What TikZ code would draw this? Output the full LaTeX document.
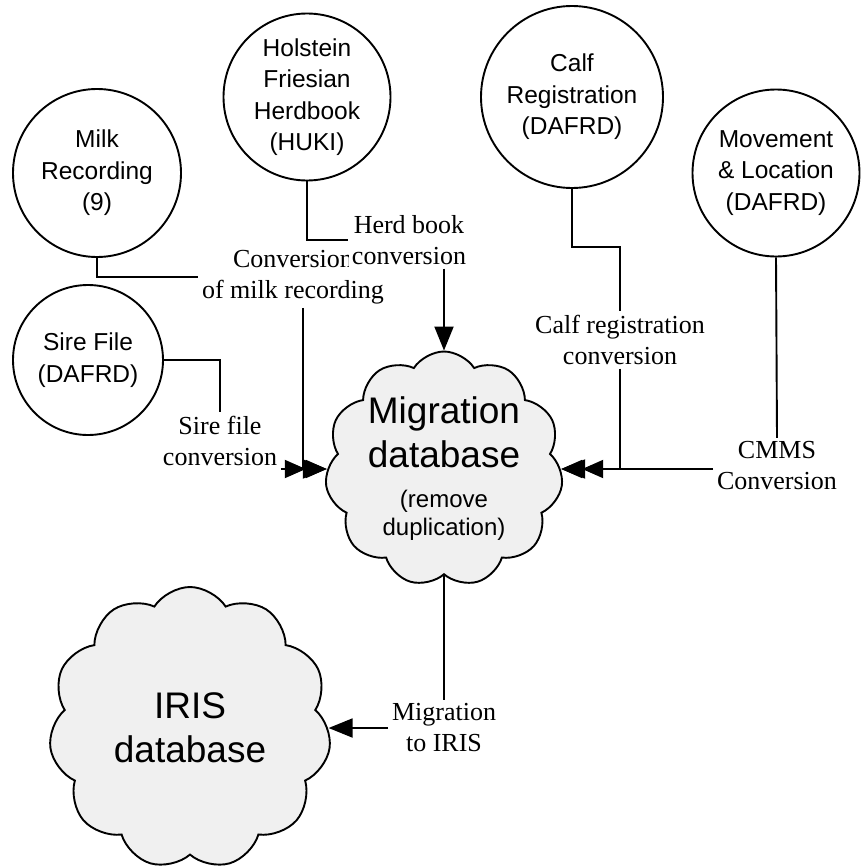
\documentclass[tikz,border=0pt]{standalone}
\usepackage{fontspec}
\setmainfont{Liberation Serif}
\setsansfont{Liberation Sans}
\usetikzlibrary{shapes.symbols,arrows.meta,positioning}

\begin{document}
\begin{tikzpicture}[x=1pt, y=-1pt, line width=1.9pt,
    source/.style={draw, circle, font=\sffamily\fontsize{24.5}{31.5}\selectfont, align=center, inner sep=0pt},
    store/.style={draw, cloud, cloud puffs=11, cloud puff arc=115, cloud ignores aspect, fill=black!6, font=\sffamily\fontsize{37}{44}\selectfont, align=center, inner sep=0pt},
    conv/.style={font=\fontsize{26}{31}\selectfont, align=center, inner sep=3pt},
    flow/.style={-{Triangle[length=24pt,width=19pt]}},
    flows/.style={-{Triangle[length=21pt,width=18pt] Triangle[length=21pt,width=18pt]}}]

    \useasboundingbox (0,0) rectangle (862,867);

    % data sources
    \node[source, minimum size=168pt] (milk) at (97,173) {Milk\\Recording\\(9)};
    \node[source, minimum size=167pt] (hol) at (307,97) {Holstein\\Friesian\\Herdbook\\(HUKI)};
    \node[source, minimum size=150pt] (sire) at (88,360) {Sire File\\(DAFRD)};
    \node[source, minimum size=182pt] (calf) at (572,97) {Calf\\Registration\\(DAFRD)};
    \node[source, minimum size=167pt] (move) at (776,173) {Movement\\\& Location\\(DAFRD)};

    % databases
    \node[store, minimum width=232pt, minimum height=235pt] (mig) at (444,469) {Migration\\database\\[-4pt]{\fontsize{24}{28}\selectfont (remove}\\[-16pt]{\fontsize{24}{28}\selectfont duplication)}};
    \node[store, minimum width=282pt, minimum height=282pt] (iris) at (190,728) {IRIS\\database};

    % conversion steps
    \node[conv] (milkconv) at (293,277) {Conversion\\of milk recording};
    \node[conv, fill=white] (hb) at (409,240) {Herd book\\conversion};
    \node[conv] (sireconv) at (220,441) {Sire file\\conversion};
    \node[conv] (calfconv) at (620,340) {Calf registration\\conversion};
    \node[conv] (cmms) at (777,466) {CMMS\\Conversion};
    \node[conv] (migto) at (444,728) {Migration\\to IRIS};

    \draw (milk.south) |- (milkconv.west);
    \draw[flow] ([xshift=10pt]milkconv.south) |- (mig.west);
    \draw (hol.south) |- (hb.west);
    \draw[flow] (hb.south -| mig.north) -- (mig.north);
    \draw (sire.east) -| (sireconv.north);
    \draw[flows] (sireconv.east |- mig.west) -- (mig.west);
    \draw (calf.south) -- ++(0,58) -| (calfconv.north);
    \draw[flow] (calfconv.south) |- (mig.east);
    \draw (move.south) -- (cmms.north);
    \draw[flows] (cmms.west |- mig.east) -- (mig.east);
    \draw (mig.south) -- (migto.north);
    \draw[flow] (migto.west) -- (migto.west -| iris.east);
\end{tikzpicture}
\end{document}
